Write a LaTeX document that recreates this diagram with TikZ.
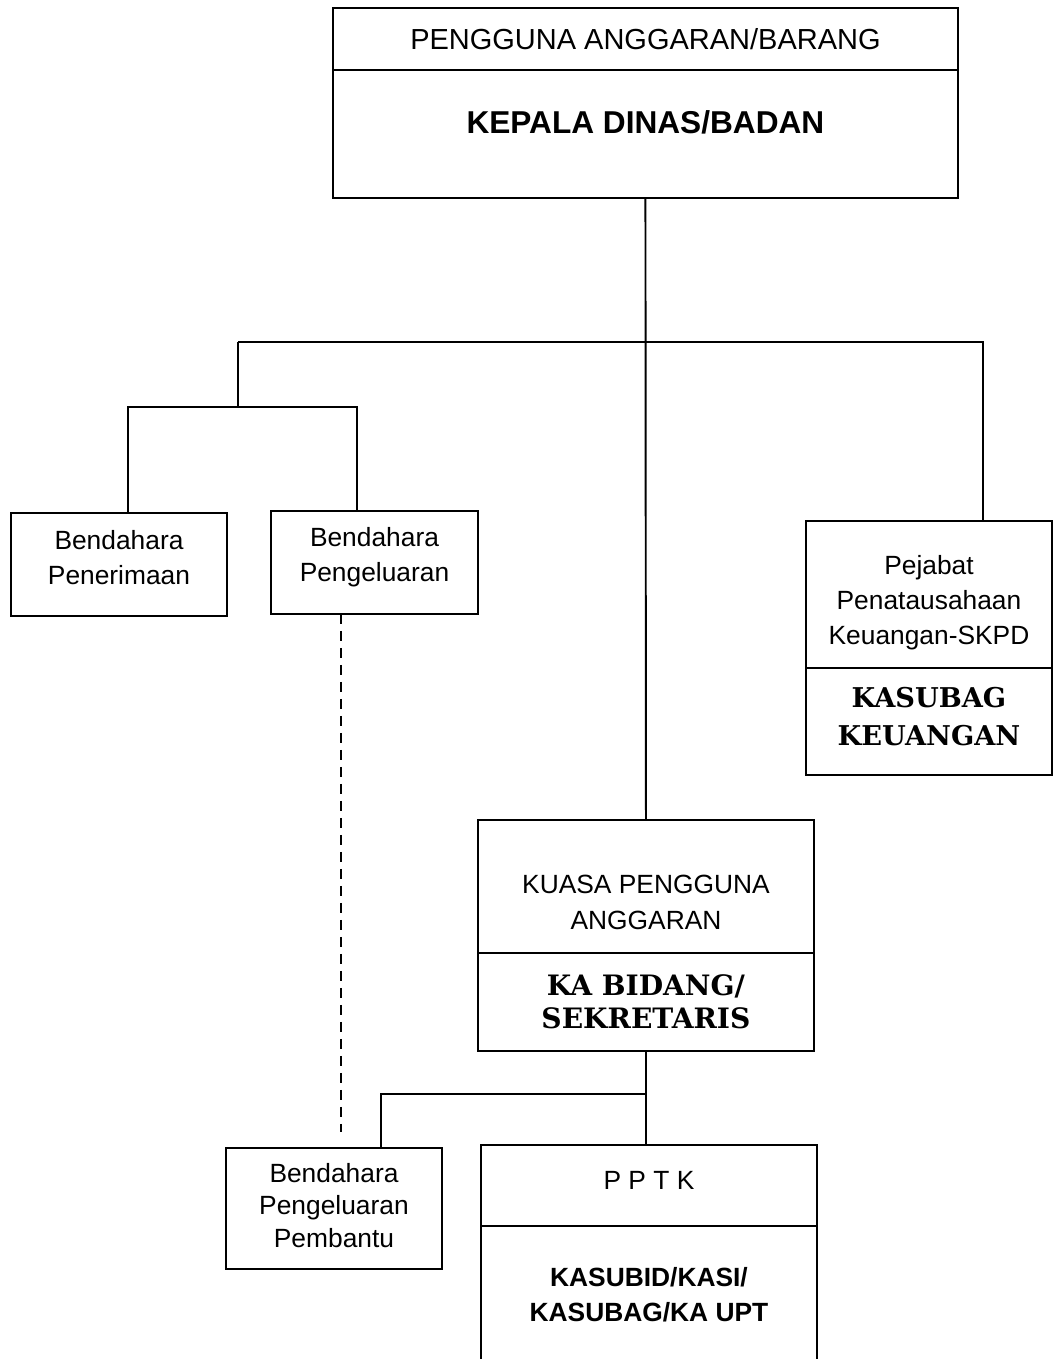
\documentclass[tikz,border=0pt]{standalone}
\usepackage{fontspec}
\setmainfont{Liberation Sans}
\newfontfamily\slabfont{DejaVu Serif}
\usetikzlibrary{positioning}

\tikzset{
  box/.style={draw, line width=1.2pt, anchor=north west, inner sep=0pt, outer sep=0pt},
  txt/.style={align=center, inner sep=0pt, font=\fontsize{15}{20}\selectfont},
  headfont/.style={font=\bfseries\fontsize{18}{22}\selectfont},
  slab/.style={font=\slabfont\bfseries\fontsize{16}{19}\selectfont},
  wire/.style={line width=1.1pt},
  guide/.style={line width=0.9pt, dash pattern=on 0.2cm off 0.14cm}
}

\begin{document}
\begin{tikzpicture}[x=0.02cm, y=-0.02cm]
  \clip (0,0) rectangle (1053,1359);

  % top
  \node[box, minimum width=12.5cm, minimum height=1.24cm] (pa) at (333,8) {};
  \node[txt, font=\fontsize{16.5}{20}\selectfont] (pat) at (pa.center) {PENGGUNA ANGGARAN/BARANG};
  \node[box, below=0pt of pa, minimum width=12.5cm, minimum height=2.56cm] (kd) {};
  \node[txt, headfont] (kdt) at ([yshift=0.24cm]kd.center) {KEPALA DINAS/BADAN};

  % bendahara
  \node[box, minimum width=4.32cm, minimum height=2.06cm] (bpn) at (11,513) {};
  \node[txt] (bpnt) at ([yshift=0.14cm]bpn.center) {Bendahara\\Penerimaan};
  \node[box, minimum width=4.14cm, minimum height=2.06cm] (bpg) at (271,511) {};
  \node[txt] (bpgt) at ([yshift=0.1cm]bpg.center) {Bendahara\\Pengeluaran};

  % ppk-skpd
  \node[box, minimum width=4.92cm, minimum height=2.94cm] (ppk) at (806,521) {};
  \node[txt] (ppkt) at ([yshift=-0.16cm]ppk.center) {Pejabat\\Penatausahaan\\Keuangan-SKPD};
  \node[box, below=0pt of ppk, minimum width=4.92cm, minimum height=2.14cm] (ksk) {};
  \node[txt, font=\slabfont\bfseries\fontsize{15.5}{21.5}\selectfont] (kskt) at ([yshift=0.1cm]ksk.center) {KASUBAG\\KEUANGAN};

  % kpa
  \node[box, minimum width=6.72cm, minimum height=2.66cm] (kpa) at (478,820) {};
  \node[txt] (kpat) at ([yshift=-0.32cm]kpa.center) {KUASA PENGGUNA\\ANGGARAN};
  \node[box, below=0pt of kpa, minimum width=6.72cm, minimum height=1.96cm] (kbs) {};
  \node[txt, slab] (kbst) at (kbs.center) {KA BIDANG/\\SEKRETARIS};

  % bawah
  \node[box, minimum width=4.32cm, minimum height=2.42cm] (bpp) at (226,1148) {};
  \node[txt, font=\fontsize{15}{18.3}\selectfont] (bppt) at ([yshift=0.06cm]bpp.center) {Bendahara\\Pengeluaran\\ Pembantu};
  \node[box, minimum width=6.72cm, minimum height=1.62cm] (pptk) at (481,1145) {};
  \node[txt] (pptkt) at ([yshift=0.1cm]pptk.center) {P P T K};
  \node[box, below=0pt of pptk, minimum width=6.72cm, minimum height=2.76cm] (ksb) {};
  \node[txt, font=\bfseries\fontsize{15}{20}\selectfont] (ksbt) at (ksb.center) {KASUBID/KASI/\\KASUBAG/KA UPT};

  % garis
  \coordinate (busL) at (238,342);
  \coordinate (busR) at (983,342);
  \coordinate (forkL) at (238,407);
  \coordinate (tapN) at (128,407);
  \coordinate (tapG) at (357,407);
  \coordinate (dashEnd) at (341,1132);
  \coordinate (tapP) at (381,1094);

  \draw[wire] (kd.south) -- (kpa.north);
  \draw[wire] (busL) -- (busR) -- (busR |- ppk.north);
  \draw[wire] (busL) -- (forkL);
  \draw[wire] (tapN |- bpn.north) -- (tapN) -- (tapG) -- (tapG |- bpg.north);
  \draw[guide] (dashEnd |- bpg.south) -- (dashEnd);
  \draw[wire] (kbs.south) -- (kbs.south |- pptk.north);
  \draw[wire] (kbs.south |- tapP) -- (tapP) -- (tapP |- bpp.north);
\end{tikzpicture}
\end{document}
